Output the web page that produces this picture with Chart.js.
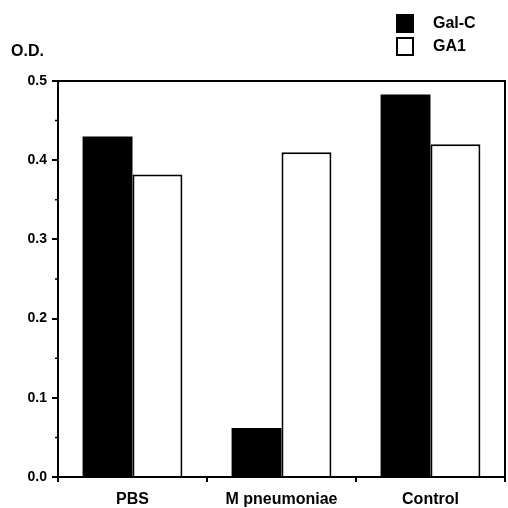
<!DOCTYPE html>
<html>
<head>
<meta charset="utf-8">
<script src="https://cdn.jsdelivr.net/npm/chart.js@4"></script>
<style>
html, body { margin: 0; padding: 0; background: #fff; }
</style>
</head>
<body>
<canvas id="odChart" width="508" height="508"></canvas>
<script>
// values
var categories = ['PBS', 'M pneumoniae', 'Control'];
var seriesNames = ['Gal-C', 'GA1'];
var galC = [0.43, 0.062, 0.483];
var ga1 = [0.382, 0.41, 0.42];
var yTickValues = [0, 0.1, 0.2, 0.3, 0.4, 0.5];
var minorTicks = [0.05, 0.15, 0.25, 0.35, 0.45];

var fontName = '"Liberation Sans", Arial, sans-serif';

// frame, minor ticks, O.D. label and the legend box
var extras = {
    id: 'extras',
    afterDraw: function(chart) {
        var ctx = chart.ctx;
        var area = chart.chartArea;
        var yScale = chart.scales.y;
        ctx.save();
        ctx.strokeStyle = '#000';
        ctx.lineWidth = 2;
        ctx.beginPath();
        ctx.moveTo(area.left, area.top);
        ctx.lineTo(area.right, area.top);
        ctx.lineTo(area.right, area.bottom);
        ctx.stroke();
        ctx.lineWidth = 1.5;
        ctx.beginPath();
        minorTicks.forEach(function(v) {
            var py = yScale.getPixelForValue(v);
            ctx.moveTo(area.left - 3, py);
            ctx.lineTo(area.left, py);
        });
        ctx.stroke();

        ctx.fillStyle = '#000';
        ctx.textBaseline = 'middle';
        ctx.font = 'bold 16px ' + fontName;
        ctx.fillText('O.D.', 11, 52);

        chart.data.datasets.forEach(function(ds, i) {
            var top = 15 + i * 23;
            ctx.fillStyle = ds.backgroundColor;
            ctx.fillRect(397, top, 16, 17);
            ctx.lineWidth = 2;
            ctx.strokeRect(397, top, 16, 17);
            ctx.fillStyle = '#000';
            ctx.fillText(ds.label, 433, top + 9);
        });
        ctx.restore();
    }
};

var ctx = document.getElementById('odChart').getContext('2d');
var chart = new Chart(ctx, {
    type: 'bar',
    data: {
        labels: categories,
        datasets: [{
            label: seriesNames[0],
            data: galC,
            backgroundColor: '#000',
            borderWidth: 0
        }, {
            label: seriesNames[1],
            data: ga1,
            backgroundColor: '#fff',
            borderColor: '#000',
            borderWidth: 2
        }]
    },
    options: {
        responsive: false,
        animation: false,
        layout: { padding: { top: 81, right: 3, left: 0, bottom: 0 } },
        datasets: {
            bar: { categoryPercentage: 0.67, barPercentage: 1.0 }
        },
        plugins: {
            legend: { display: false },
            tooltip: { enabled: false }
        },
        scales: {
            x: {
                grid: { drawOnChartArea: false, tickLength: 5, color: '#000', lineWidth: 2 },
                border: { color: '#000', width: 2 },
                ticks: { color: '#000', font: { family: fontName, size: 16, weight: 'bold' }, padding: 8, maxRotation: 0 },
                afterFit: function(scale) { scale.height = 31; }
            },
            y: {
                min: 0,
                max: 0.5,
                afterBuildTicks: function(scale) {
                    scale.ticks = yTickValues.map(function(v) { return { value: v }; });
                },
                grid: { drawOnChartArea: false, tickLength: 6, color: '#000', lineWidth: 2 },
                border: { color: '#000', width: 2 },
                ticks: {
                    color: '#000',
                    font: { family: fontName, size: 14, weight: 'bold' },
                    padding: 5,
                    callback: function(v) { return v.toFixed(1); }
                },
                afterFit: function(scale) { scale.width = 58; }
            }
        }
    },
    plugins: [extras]
});
</script>
</body>
</html>
